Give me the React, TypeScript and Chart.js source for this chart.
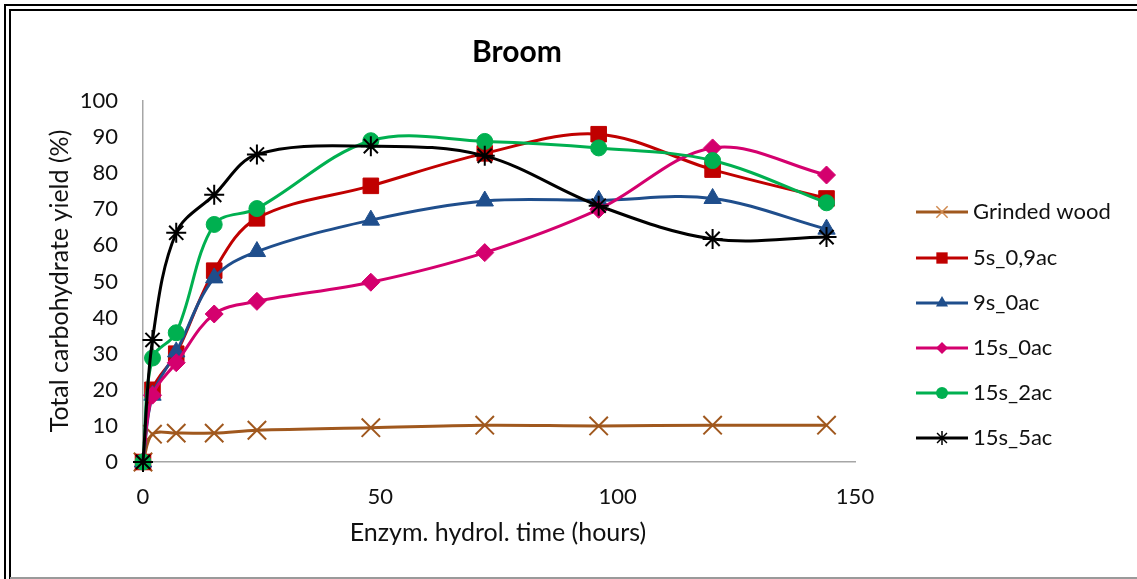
import React, { useEffect, useRef } from "react";
import { Chart, registerables } from "chart.js";

Chart.register(...registerables);

const hours = [0, 2, 7, 15, 24, 48, 72, 96, 120, 144];
const seriesNames = ["Grinded wood", "5s_0,9ac", "9s_0ac", "15s_0ac", "15s_2ac", "15s_5ac"];
const grindedWood = [0, 7.7, 8.0, 8.0, 8.8, 9.5, 10.2, 10.0, 10.2, 10.2];
const s5_09ac = [0, 20.0, 30.0, 53.0, 67.5, 76.5, 85.5, 90.8, 81.0, 73.0];
const s9_0ac = [0, 18.5, 30.5, 51.0, 58.3, 67.0, 72.3, 72.5, 73.0, 64.5];
const s15_0ac = [0, 18.5, 27.5, 41.0, 44.5, 49.8, 58.0, 70.0, 87.0, 79.5];
const s15_2ac = [0, 28.8, 35.8, 65.8, 70.2, 89.0, 88.8, 87.0, 83.5, 71.8];
const s15_5ac = [0, 33.8, 63.5, 74.0, 85.2, 87.5, 84.8, 71.0, 61.8, 62.3];
const xTicks = [0, 50, 100, 150];
const yTicks = [0, 10, 20, 30, 40, 50, 60, 70, 80, 90, 100];

const colors = ["#A0581E", "#C00000", "#1F4E8C", "#D4006E", "#00B050", "#000000"];
const pointStyles = ["crossRot", "rect", "triangle", "rectRot", "circle", "star"];
const pointRadii = [13, 11, 10, 9, 8, 10];
const legendRadii = [8, 8, 7, 6, 6, 7];
const seriesValues = [grindedWood, s5_09ac, s9_0ac, s15_0ac, s15_2ac, s15_5ac];

const FONT = "Lato, 'Open Sans', sans-serif";

function drawPointHelper(ctx: CanvasRenderingContext2D, style: string, r: number, x: number, y: number) {
  ctx.beginPath();
  if (style === "crossRot" || style === "star") {
    const d = r * Math.SQRT1_2;
    ctx.moveTo(x - d, y - d); ctx.lineTo(x + d, y + d);
    ctx.moveTo(x - d, y + d); ctx.lineTo(x + d, y - d);
    if (style === "star") { ctx.moveTo(x, y - r); ctx.lineTo(x, y + r); }
    ctx.stroke();
  } else if (style === "rect") {
    const s = r * Math.SQRT1_2;
    ctx.rect(x - s, y - s, 2 * s, 2 * s);
    ctx.fill();
  } else if (style === "triangle") {
    ctx.moveTo(x, y - r);
    ctx.lineTo(x + r * 0.866, y + r * 0.5);
    ctx.lineTo(x - r * 0.866, y + r * 0.5);
    ctx.closePath();
    ctx.fill();
  } else if (style === "rectRot") {
    ctx.moveTo(x, y - r); ctx.lineTo(x + r, y); ctx.lineTo(x, y + r); ctx.lineTo(x - r, y);
    ctx.closePath();
    ctx.fill();
  } else {
    ctx.arc(x, y, r, 0, Math.PI * 2);
    ctx.fill();
  }
}

const decorPlugin = {
  id: "decor",
  afterDraw(chart: any) {
    const ctx = chart.ctx as CanvasRenderingContext2D;
    ctx.save();
    // frame
    ctx.strokeStyle = "#000";
    ctx.lineWidth = 2;
    ctx.beginPath();
    ctx.moveTo(1137, 5);
    ctx.lineTo(5, 5);
    ctx.lineTo(5, 579);
    ctx.stroke();
    ctx.beginPath();
    ctx.moveTo(1137, 10);
    ctx.lineTo(10, 10);
    ctx.lineTo(10, 579);
    ctx.stroke();
    ctx.strokeStyle = "#9a9a9a";
    ctx.beginPath();
    ctx.moveTo(10, 578);
    ctx.lineTo(1137, 578);
    ctx.stroke();

    // title
    ctx.fillStyle = "#000";
    ctx.font = `bold 30px ${FONT}`;
    ctx.textAlign = "center";
    ctx.textBaseline = "middle";
    ctx.fillText("Broom", 517, 52);

    // axis titles
    ctx.font = `25px ${FONT}`;
    ctx.fillStyle = "#111";
    ctx.fillText("Enzym. hydrol. time (hours)", 498, 533);
    ctx.save();
    ctx.translate(60, 281);
    ctx.rotate(-Math.PI / 2);
    ctx.fillText("Total carbohydrate yield (%)", 0, 0);
    ctx.restore();

    // legend
    const rowY = [212, 258, 303, 348, 393, 438];
    seriesNames.forEach((name, i) => {
      const y = rowY[i];
      ctx.strokeStyle = colors[i];
      ctx.lineWidth = 3;
      ctx.beginPath();
      ctx.moveTo(916, y);
      ctx.lineTo(968, y);
      ctx.stroke();
      const isLine = pointStyles[i] === "crossRot" || pointStyles[i] === "star";
      ctx.fillStyle = colors[i];
      ctx.strokeStyle = i === 0 ? "#D08A50" : colors[i];
      ctx.lineWidth = isLine ? 1.5 : 1;
      drawPointHelper(ctx, pointStyles[i], legendRadii[i], 942, y);
      ctx.fillStyle = "#111";
      ctx.font = `22px ${FONT}`;
      ctx.textAlign = "left";
      ctx.textBaseline = "middle";
      ctx.fillText(name, 973, y);
    });
    ctx.restore();
  },
};

export default function App() {
  const ref = useRef<HTMLCanvasElement>(null);
  useEffect(() => {
    document.body.style.margin = "0";
    const n = seriesNames.length;
    const chart = new Chart(ref.current!, {
      type: "line",
      data: {
        datasets: seriesNames.map((name, i) => ({
          label: name,
          data: hours.map((h, k) => ({ x: h, y: seriesValues[i][k] })),
          borderColor: colors[i],
          backgroundColor: colors[i],
          pointBackgroundColor: colors[i],
          pointBorderColor: colors[i],
          pointBorderWidth: pointStyles[i] === "crossRot" || pointStyles[i] === "star" ? 2 : 1,
          pointStyle: pointStyles[i] as any,
          pointRadius: pointRadii[i],
          borderWidth: 3,
          tension: 0.35,
          clip: false as any,
          order: n - 1 - i,
        })),
      },
      options: {
        animation: false,
        responsive: false,
        maintainAspectRatio: false,
        layout: { padding: { top: 101, right: 282, left: 0, bottom: 0 } },
        plugins: { legend: { display: false }, title: { display: false }, tooltip: { enabled: false } },
        scales: {
          x: {
            type: "linear",
            min: 0,
            max: 150,
            afterBuildTicks: (s: any) => { s.ticks = xTicks.map((v) => ({ value: v })); },
            afterFit: (s: any) => { s.height = 117; },
            grid: { display: false, drawTicks: false },
            border: { display: true, color: "#a6a6a6", width: 1.5 },
            ticks: { color: "#111", font: { family: FONT, size: 22 }, padding: 22 },
          },
          y: {
            min: 0,
            max: 100,
            afterBuildTicks: (s: any) => { s.ticks = yTicks.map((v) => ({ value: v })); },
            afterFit: (s: any) => { s.width = 143; },
            grid: { display: false, drawTicks: false },
            border: { display: true, color: "#a6a6a6", width: 1.5 },
            ticks: { color: "#111", font: { family: FONT, size: 22 }, padding: 25 },
          },
        },
      },
      plugins: [decorPlugin],
    });
    return () => chart.destroy();
  }, []);
  return <canvas ref={ref} width={1137} height={579} style={{ display: "block" }} />;
}
